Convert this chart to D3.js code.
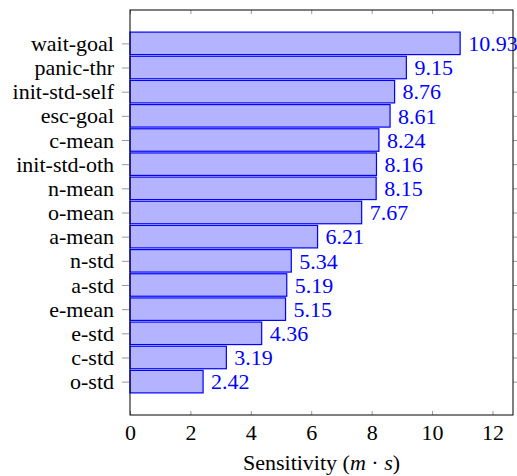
<!DOCTYPE html>
<html>
<head>
<meta charset="utf-8">
<script src="https://cdn.jsdelivr.net/npm/d3@7"></script>
<style>
body { margin: 0; background: #fff; }
</style>
</head>
<body>
<script>
const categories = ['wait-goal', 'panic-thr', 'init-std-self', 'esc-goal', 'c-mean', 'init-std-oth',
    'n-mean', 'o-mean', 'a-mean', 'n-std', 'a-std', 'e-mean', 'e-std', 'c-std', 'o-std']
const values = [10.93, 9.15, 8.76, 8.61, 8.24, 8.16, 8.15, 7.67, 6.21, 5.34, 5.19, 5.15, 4.36, 3.19, 2.42]
const xTicks = [0, 2, 4, 6, 8, 10, 12]

const WIDTH = 517
const HEIGHT = 476
const margin = { top: 10, bottom: 61, left: 130, right: 4 }
const FONT = '"Liberation Serif"'
const FS = '22px'
const TICK = '#999'

const svg = d3.select('body').append('svg')
    .attr('width', WIDTH)
    .attr('height', HEIGHT);

const x_scale = d3.scaleLinear()
    .domain([0, 12.68])
    .range([margin.left, WIDTH - margin.right]);

// categories at 0..14 with some empty room above and below
const y_scale = d3.scaleLinear()
    .domain([-1.38, categories.length - 1 + 1.38])
    .range([margin.top, HEIGHT - margin.bottom]);

const barH = 22.5

svg.append('g')
    .selectAll('rect')
    .data(values)
    .join('rect')
        .attr('x', x_scale(0))
        .attr('y', (d, i) => y_scale(i) - barH / 2)
        .attr('width', d => x_scale(d) - x_scale(0))
        .attr('height', barH)
        .attr('fill', '#b3b3ff')
        .attr('stroke', '#0000ff')
        .attr('stroke-width', 1.2);

svg.append('g')
    .selectAll('text')
    .data(values)
    .join('text')
        .attr('x', d => x_scale(d) + 8)
        .attr('y', (d, i) => y_scale(i))
        .attr('dy', '0.35em')
        .attr('fill', '#0000ff')
        .style('font-family', FONT)
        .style('font-size', FS)
        .text(d => d.toFixed(2));

// bottom axis
const xAxis = svg.append('g')
    .attr('transform', `translate(0,${HEIGHT - margin.bottom})`)
    .call(d3.axisBottom(x_scale).tickValues(xTicks).tickSize(-4).tickPadding(9).tickFormat(d3.format('d')));
xAxis.select('.domain').remove();
xAxis.selectAll('text').style('font-family', FONT).style('font-size', FS).attr('fill', '#000');
xAxis.selectAll('line').attr('stroke', TICK);

// top ticks
const topAxis = svg.append('g')
    .attr('transform', `translate(0,${margin.top})`)
    .call(d3.axisTop(x_scale).tickValues(xTicks).tickSize(-4).tickFormat(''));
topAxis.select('.domain').remove();
topAxis.selectAll('line').attr('stroke', TICK);

// left axis
const yAxis = svg.append('g')
    .attr('transform', `translate(${margin.left},0)`)
    .call(d3.axisLeft(y_scale).tickValues(d3.range(categories.length)).tickSize(8).tickPadding(8)
        .tickFormat(i => categories[i]));
yAxis.select('.domain').remove();
yAxis.selectAll('text').style('font-family', FONT).style('font-size', FS).attr('fill', '#000');
yAxis.selectAll('line').attr('stroke', TICK);

// right ticks
const rAxis = svg.append('g')
    .attr('transform', `translate(${WIDTH - margin.right},0)`)
    .call(d3.axisRight(y_scale).tickValues(d3.range(categories.length)).tickSize(6).tickFormat(''));
rAxis.select('.domain').remove();
rAxis.selectAll('line').attr('stroke', TICK);

// frame
svg.append('rect')
    .attr('x', x_scale(0))
    .attr('y', margin.top)
    .attr('width', x_scale.range()[1] - x_scale(0))
    .attr('height', HEIGHT - margin.bottom - margin.top)
    .attr('fill', 'none')
    .attr('stroke', '#000')
    .attr('stroke-width', 1);

const label = svg.append('text')
    .attr('x', (x_scale.range()[0] + x_scale.range()[1]) / 2)
    .attr('y', 470)
    .attr('text-anchor', 'middle')
    .style('font-family', FONT)
    .style('font-size', FS);
label.append('tspan').text('Sensitivity (');
label.append('tspan').attr('font-style', 'italic').text('m');
label.append('tspan').text(' · ');
label.append('tspan').attr('font-style', 'italic').text('s');
label.append('tspan').text(')');
</script>
</body>
</html>
